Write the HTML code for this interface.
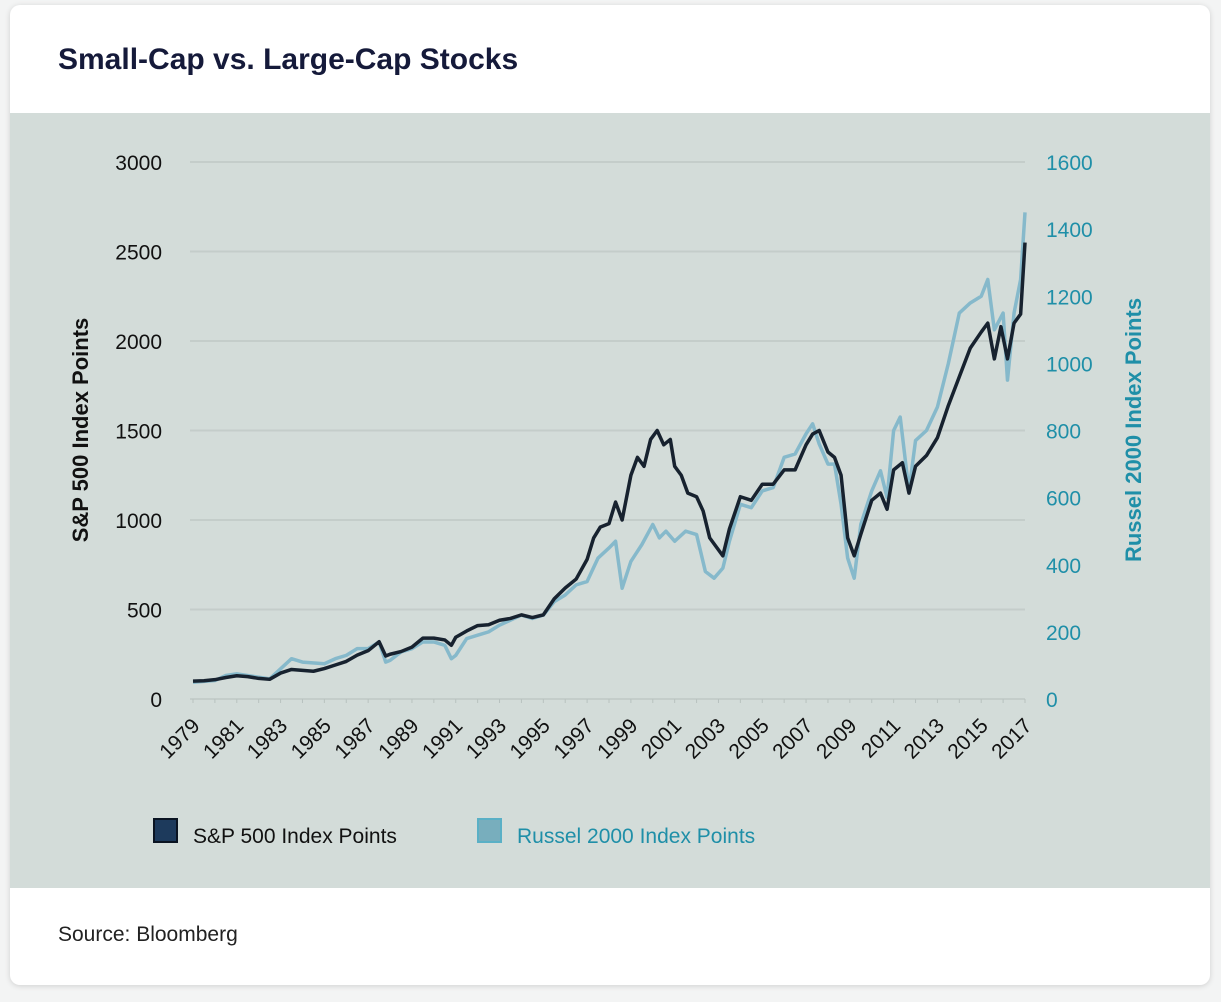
<!DOCTYPE html>
<html><head><meta charset="utf-8"><style>
body{margin:0;background:#f3f4f4;width:1221px;height:1002px;overflow:hidden;font-family:"Liberation Sans",sans-serif}
.card{position:absolute;left:10px;top:5px;width:1200px;height:980px;background:#fff;border-radius:10px;box-shadow:0 1px 6px rgba(0,0,0,.15);overflow:hidden}
.title{position:absolute;left:48px;top:38px;font-size:30px;font-weight:bold;color:#151a3a}
.panel{position:absolute;left:0;top:108px;width:1200px;height:775px;background:#d3dcd9}
.src{position:absolute;left:48px;top:918px;font-size:21px;color:#222}
svg{position:absolute;left:0;top:0}
</style></head><body>
<div class="card">
<div class="title">Small-Cap vs. Large-Cap Stocks</div>
<div class="panel"></div>
<div class="src">Source: Bloomberg</div>
</div>
<svg id="chart" width="1221" height="1002"></svg>
<script>
const spYears=[1979,1979.5,1980,1980.5,1981,1981.5,1982,1982.5,1983,1983.5,1984,1984.5,1985,1985.5,1986,1986.5,1987,1987.5,1987.8,1988,1988.5,1989,1989.5,1990,1990.5,1990.8,1991,1991.5,1992,1992.5,1993,1993.5,1994,1994.5,1995,1995.5,1996,1996.5,1997,1997.3,1997.6,1998,1998.3,1998.6,1999,1999.3,1999.6,1999.9,2000.2,2000.5,2000.8,2001,2001.3,2001.6,2002,2002.3,2002.6,2002.9,2003.2,2003.5,2004,2004.5,2005,2005.5,2006,2006.5,2007,2007.3,2007.6,2008,2008.3,2008.6,2008.9,2009.2,2009.5,2010,2010.4,2010.7,2011,2011.4,2011.7,2012,2012.5,2013,2013.5,2014,2014.5,2015,2015.3,2015.6,2015.9,2016.2,2016.5,2016.8,2017];
const spVals=[100,102,108,120,130,125,115,110,145,165,160,155,170,190,210,245,270,320,240,250,265,290,340,340,330,300,345,380,410,415,440,450,470,455,470,560,620,670,780,900,960,980,1100,1000,1250,1350,1300,1450,1500,1420,1450,1300,1250,1150,1130,1050,900,850,800,950,1130,1110,1200,1200,1280,1280,1420,1480,1500,1380,1350,1250,900,800,920,1110,1150,1060,1280,1320,1150,1300,1360,1460,1640,1800,1960,2050,2100,1900,2080,1900,2100,2150,2550];
const ruYears=[1979,1980,1980.5,1981,1982,1982.5,1983,1983.5,1984,1985,1985.5,1986,1986.5,1987,1987.5,1987.8,1988,1988.5,1989,1989.5,1990,1990.5,1990.8,1991,1991.5,1992,1992.5,1993,1993.5,1994,1994.5,1995,1995.5,1996,1996.5,1997,1997.5,1998,1998.3,1998.6,1999,1999.5,2000,2000.3,2000.6,2001,2001.5,2002,2002.4,2002.8,2003.2,2003.5,2004,2004.5,2005,2005.5,2006,2006.5,2007,2007.3,2007.6,2008,2008.3,2008.6,2008.9,2009.2,2009.5,2010,2010.4,2010.7,2011,2011.3,2011.7,2012,2012.5,2013,2013.5,2014,2014.5,2015,2015.3,2015.6,2016,2016.2,2016.5,2016.8,2017];
const ruVals=[50,55,70,75,65,60,90,120,110,105,120,130,150,150,170,110,115,140,150,170,170,160,120,130,180,190,200,220,235,250,240,250,290,310,340,350,420,450,470,330,410,460,520,480,500,470,500,490,380,360,390,470,580,570,620,630,720,730,790,820,760,700,700,580,420,360,520,620,680,600,800,840,620,770,800,870,1000,1150,1180,1200,1250,1100,1150,950,1150,1250,1450];
const leftTicks=[0,500,1000,1500,2000,2500,3000];
const rightTicks=[0,200,400,600,800,1000,1200,1400,1600];
const yearLabels=[1979,1981,1983,1985,1987,1989,1991,1993,1995,1997,1999,2001,2003,2005,2007,2009,2011,2013,2015,2017];
const NS='http://www.w3.org/2000/svg';
const svg=document.getElementById('chart');
const X0=193,X1=1025,Y0=699,Y1=162;
const x=y=>X0+(y-1979)/(2017-1979)*(X1-X0);
const yl=v=>Y0-v/3000*(Y0-Y1);
const yr=v=>Y0-v/1600*(Y0-Y1);
function mk(t,a){const e=document.createElementNS(NS,t);for(const k in a)e.setAttribute(k,a[k]);svg.appendChild(e);return e;}
leftTicks.forEach(v=>{
 const g=mk('line',{x1:X0-3,x2:X1,y1:yl(v),y2:yl(v),stroke:'#c4cdca','stroke-width':2});
 
 
 const t=mk('text',{x:162,y:yl(v)+8,'text-anchor':'end','font-size':21,fill:'#111','font-family':'Liberation Sans, sans-serif'});
 t.textContent=v;
 
 
});
rightTicks.forEach(v=>{
 const t=mk('text',{x:1046,y:yr(v)+8,'font-size':21,fill:'#1f8fa8','font-family':'Liberation Sans, sans-serif'});
 t.textContent=v;
 
 
});
for(let yy=1979;yy<=2017;yy++){
 const tk=mk('line',{x1:x(yy),x2:x(yy),y1:Y0,y2:Y0+4,stroke:'#b8c2bf','stroke-width':1});
 
 
}
yearLabels.forEach(yy=>{
 const t=mk('text',{x:0,y:0,'text-anchor':'end','font-size':21,fill:'#111','font-family':'Liberation Sans, sans-serif',transform:`translate(${x(yy)+8},${Y0+28}) rotate(-45)`});
 t.textContent=yy;
 
 
});
const ru=mk('polyline',{points:ruYears.map((yy,i)=>x(yy)+','+yr(ruVals[i])).join(' '),fill:'none',stroke:'#86b9cb','stroke-width':3.5,'stroke-linejoin':'round'});


const sp=mk('polyline',{points:spYears.map((yy,i)=>x(yy)+','+yl(spVals[i])).join(' '),fill:'none',stroke:'#17222f','stroke-width':3.5,'stroke-linejoin':'round'});


const lt=mk('text',{x:0,y:0,'text-anchor':'middle','font-size':22,'font-weight':'bold',fill:'#111','font-family':'Liberation Sans, sans-serif',transform:'translate(88,430) rotate(-90)'});
lt.textContent='S&P 500 Index Points';


const rt=mk('text',{x:0,y:0,'text-anchor':'middle','font-size':22,'font-weight':'bold',fill:'#1f8fa8','font-family':'Liberation Sans, sans-serif',transform:'translate(1141,430) rotate(-90)'});
rt.textContent='Russel 2000 Index Points';


const s1=mk('rect',{x:154,y:819,width:23,height:23,fill:'#1d3a5c',stroke:'#0a1422','stroke-width':2});


const l1=mk('text',{x:193,y:843,'font-size':21,fill:'#111','font-family':'Liberation Sans, sans-serif'});
l1.textContent='S&P 500 Index Points';


const s2=mk('rect',{x:478,y:819,width:23,height:23,fill:'#78aebd',stroke:'#5ab0c6','stroke-width':2});


const l2=mk('text',{x:517,y:843,'font-size':21,fill:'#1f8fa8','font-family':'Liberation Sans, sans-serif'});
l2.textContent='Russel 2000 Index Points';


</script>
</body></html>
